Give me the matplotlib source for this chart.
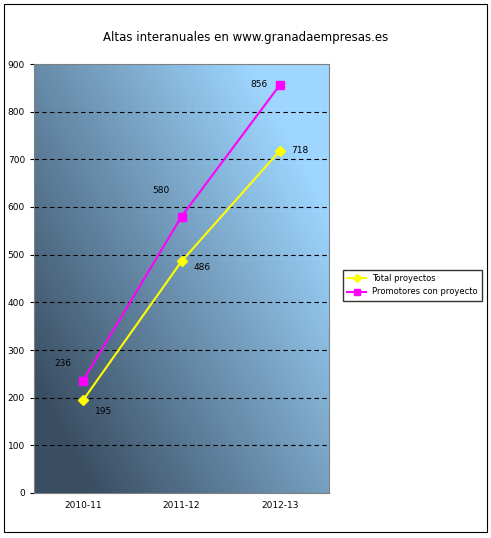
import matplotlib
matplotlib.use("Agg")
import matplotlib.pyplot as plt
import numpy as np

categories = ["2010-11", "2011-12", "2012-13"]
total = [195, 486, 718]
promotores = [236, 580, 856]

W, H = 491, 538
fig = plt.figure(figsize=(W/100, H/100), dpi=100)
fig.patches.append(plt.Rectangle((4/W, 1-532/H), 483/W, 528/H, transform=fig.transFigure,
                                 fill=False, ec="black", lw=0.8))
ax = fig.add_axes([34/W, 1-493/H, 295/W, 429/H])

n = 200
xx, yy = np.meshgrid(np.linspace(0, 1, n), np.linspace(0, 1, n))
t = np.clip(0.75*xx + 0.6*yy - 0.15, 0, 1)
dark = np.array([0x3a, 0x4e, 0x62]) / 255
light = np.array([0x9e, 0xd6, 0xff]) / 255
img = dark[None, None, :]*(1-t[..., None]) + light[None, None, :]*t[..., None]
ax.imshow(img, extent=[0, 1, 0, 1], transform=ax.transAxes, origin="lower",
          aspect="auto", zorder=0)

x = np.arange(len(categories))
ax.set_xlim(-0.5, len(categories)-0.5)
ax.set_ylim(0, 900)
for y in range(100, 900, 100):
    ax.axhline(y, color="black", ls=(0, (4, 3)), lw=0.8, zorder=1)

ax.plot(x, total, color="#ffff00", marker="D", ms=5, lw=1.5, zorder=3, label="Total proyectos")
ax.plot(x, promotores, color="#ff00ff", marker="s", ms=6, lw=1.5, zorder=3, label="Promotores con proyecto")

fs = 6.5
offs_t = [(0.12, -25), (0.12, -12), (0.12, 0)]
for xi, v, (dx, dy) in zip(x, total, offs_t):
    ax.text(xi+dx, v+dy, str(v), fontsize=fs, va="center", ha="left", zorder=4)
offs_p = [(-0.12, 35), (-0.12, 55), (-0.12, 0)]
for xi, v, (dx, dy) in zip(x, promotores, offs_p):
    ax.text(xi+dx, v+dy, str(v), fontsize=fs, va="center", ha="right", zorder=4)

ax.set_xticks(x)
ax.set_xticklabels(categories, fontsize=fs)
ax.set_yticks(range(0, 901, 100))
ax.tick_params(axis="y", labelsize=fs, length=3)
ax.tick_params(axis="x", length=0, pad=6)
for s in ax.spines.values():
    s.set_color("#808080")

fig.text(0.5, 1-38/H, "Altas interanuales en www.granadaempresas.es", ha="center",
         va="center", fontsize=8.5)
fig.legend(loc="upper left", bbox_to_anchor=(339/W, 1-266/H), fontsize=6,
           frameon=True, fancybox=False, edgecolor="black", handlelength=2.2,
           borderpad=0.5, labelspacing=0.5, markerscale=0.8)
fig.savefig("out.png", dpi=100)
